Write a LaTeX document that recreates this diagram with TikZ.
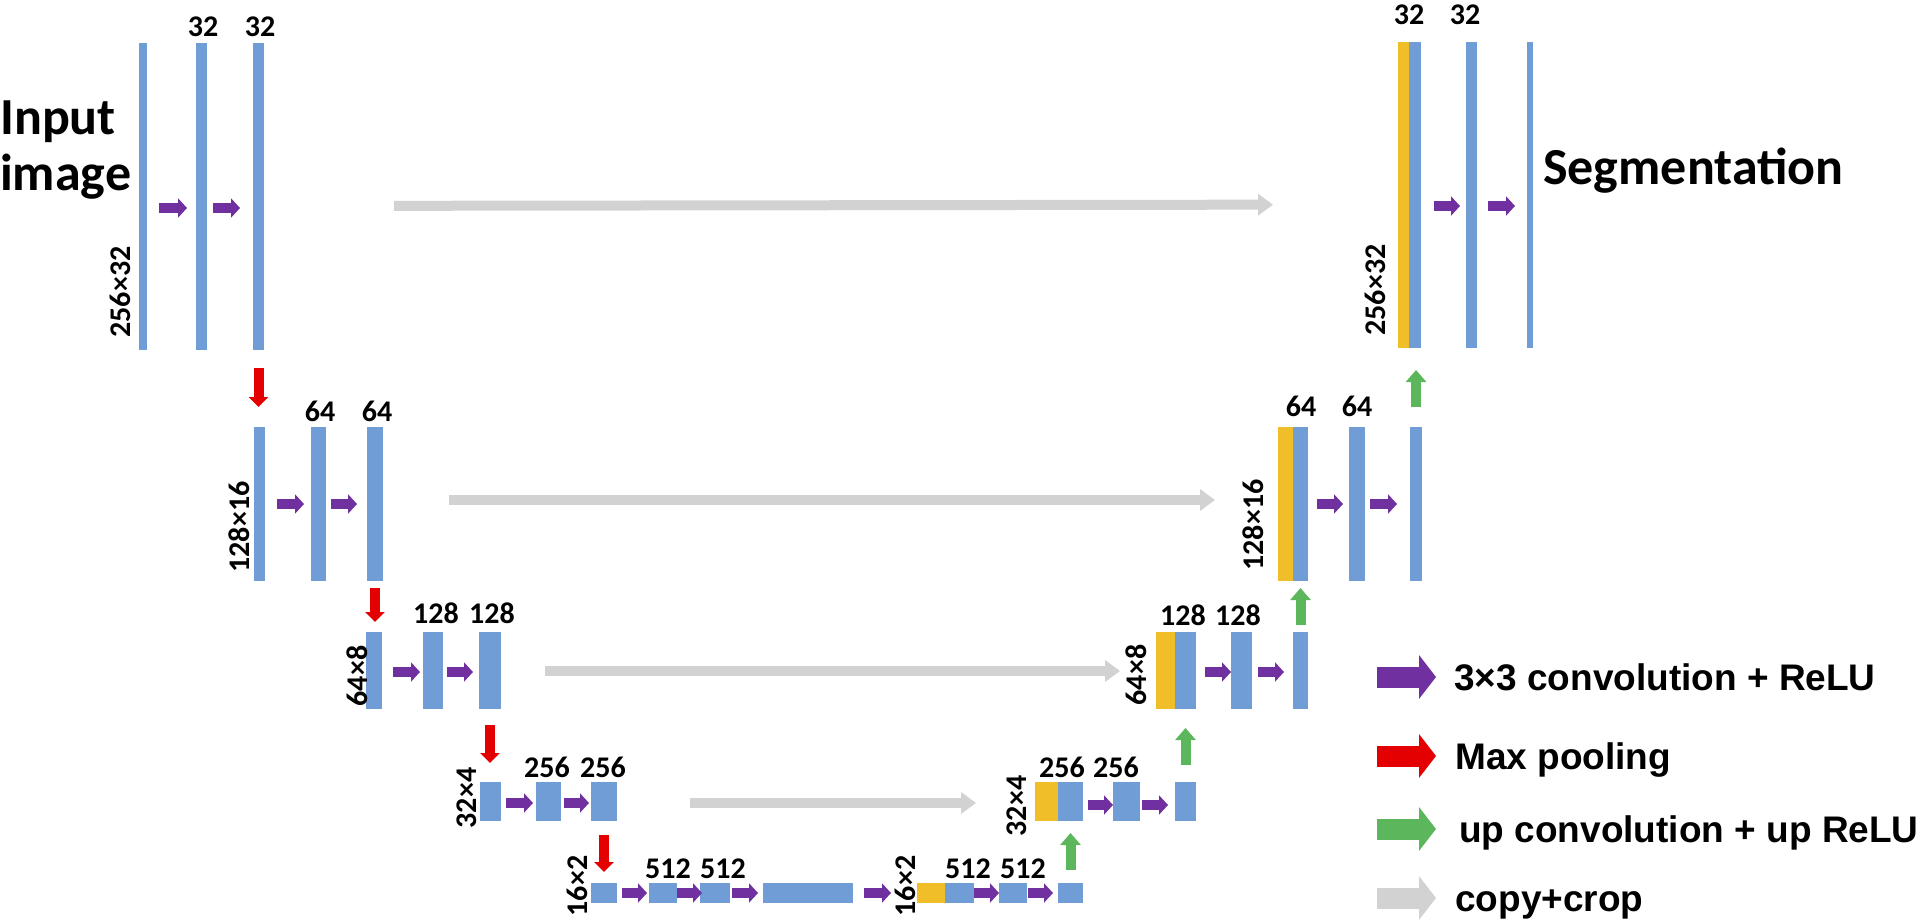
\documentclass[tikz,border=0pt]{standalone}
\usepackage{fontspec}
\setmainfont{Carlito}
\newfontfamily\legfont{Liberation Sans}
\usetikzlibrary{arrows.meta}
\definecolor{barblue}{RGB}{113,157,215}
\definecolor{baryel}{RGB}{240,190,40}
\definecolor{convpur}{RGB}{112,48,160}
\definecolor{poolred}{RGB}{228,0,0}
\definecolor{upgreen}{RGB}{92,182,92}
\definecolor{copygray}{RGB}{210,210,210}
\newcommand\mkbar[5]{\node[#1,minimum width=#4pt,minimum height=#5pt] (#2) at #3 {};}
\newcommand\hc[6]{\draw[#1,shorten <=#5pt,shorten >=#6pt] ([yshift=#4pt]#2.east) -- ([yshift=#4pt]#3.west);}
\begin{document}
\begin{tikzpicture}[x=1pt,y=-1pt,
  bar/.style={draw=none,fill=barblue,inner sep=0pt,outer sep=0pt,rectangle},
  ybar/.style={bar,fill=baryel},
  conv/.style={draw=convpur,line width=10pt,-{Triangle[width=19pt,length=9pt]}},
  pool/.style={draw=poolred,line width=10pt,-{Triangle[width=19pt,length=10pt]}},
  upc/.style={draw=upgreen,line width=10pt,-{Triangle[width=20pt,length=12pt]}},
  copyc/.style={draw=copygray,line width=10pt,-{Triangle[width=21pt,length=15pt]}},
  lab/.style={inner sep=0pt,font=\bfseries\fontsize{30}{35}\selectfont},
  big/.style={inner sep=0pt,font=\bfseries\fontsize{52}{58}\selectfont,anchor=base west},
  legt/.style={inner sep=0pt,font=\legfont\bfseries\fontsize{37}{42}\selectfont,anchor=base west},
  legconv/.style={draw=convpur,line width=21pt,-{Triangle[width=43pt,length=17pt]}},
  legpool/.style={legconv,draw=poolred},
  legup/.style={legconv,draw=upgreen},
  legcopy/.style={legconv,draw=copygray},
]
\useasboundingbox (0,0) rectangle (1920,923);

% ---- level 1 left
\mkbar{bar}{L1a}{(143,196.5)}{8}{307}
\mkbar{bar}{L1b}{(201.5,196.5)}{11}{307}
\mkbar{bar}{L1c}{(258.5,196.5)}{11}{307}
% ---- level 2 left
\mkbar{bar}{L2a}{(259.5,504)}{11}{154}
\mkbar{bar}{L2b}{(318.5,504)}{15}{154}
\mkbar{bar}{L2c}{(375,504)}{16}{154}
% ---- level 3 left
\mkbar{bar}{L3a}{(374,670.5)}{16}{77}
\mkbar{bar}{L3b}{(433,670.5)}{20}{77}
\mkbar{bar}{L3c}{(490,670.5)}{22}{77}
% ---- level 4 left
\mkbar{bar}{L4a}{(490.5,801.5)}{21}{39}
\mkbar{bar}{L4b}{(548.5,801.5)}{25}{39}
\mkbar{bar}{L4c}{(604,801.5)}{26}{39}
% ---- level 5
\mkbar{bar}{B1}{(604,893)}{26}{20}
\mkbar{bar}{B2}{(663,893)}{28}{20}
\mkbar{bar}{B3}{(715,893)}{30}{20}
\mkbar{bar}{B4}{(808,893)}{90}{20}
\mkbar{ybar}{B5y}{(931,893)}{28}{20}
\mkbar{bar}{B5}{(959.5,893)}{29}{20}
\mkbar{bar}{B6}{(1013,893)}{28}{20}
\mkbar{bar}{B7}{(1070.5,893)}{25}{20}
% ---- level 4 right
\mkbar{ybar}{R4y}{(1046.5,801.5)}{23}{39}
\mkbar{bar}{R4a}{(1070.5,801.5)}{25}{39}
\mkbar{bar}{R4b}{(1126.5,801.5)}{27}{39}
\mkbar{bar}{R4c}{(1185.5,801.5)}{21}{39}
% ---- level 3 right
\mkbar{ybar}{R3y}{(1165.5,670.5)}{19}{77}
\mkbar{bar}{R3a}{(1185.5,670.5)}{21}{77}
\mkbar{bar}{R3b}{(1241.5,670.5)}{21}{77}
\mkbar{bar}{R3c}{(1300.5,670.5)}{15}{77}
% ---- level 2 right
\mkbar{ybar}{R2y}{(1285.5,504)}{15}{154}
\mkbar{bar}{R2a}{(1300.5,504)}{15}{154}
\mkbar{bar}{R2b}{(1357,504)}{16}{154}
\mkbar{bar}{R2c}{(1416,504)}{12}{154}
% ---- level 1 right
\mkbar{ybar}{R1y}{(1403.5,195)}{11}{306}
\mkbar{bar}{R1a}{(1415,195)}{12}{306}
\mkbar{bar}{R1b}{(1471.5,195)}{11}{306}
\mkbar{bar}{R1c}{(1530,195)}{6}{306}

% ---- copy + crop
\hc{copyc}{L1c}{R1y}{-9.5}{130}{125}
\hc{copyc}{L2c}{R2y}{4}{66}{63}
\hc{copyc}{L3c}{R3y}{-0.5}{44}{36}
\hc{copyc}{L4c}{R4y}{-1.5}{73}{59}

% ---- convolutions
\hc{conv}{L1a}{L1b}{-11.5}{12}{9}
\hc{conv}{L1b}{L1c}{-11.5}{6}{13}
\hc{conv}{L2a}{L2b}{0}{12}{7}
\hc{conv}{L2b}{L2c}{0}{5}{10}
\hc{conv}{L3a}{L3b}{-1.5}{11}{3}
\hc{conv}{L3b}{L3c}{-1.5}{4}{6}
\hc{conv}{L4a}{L4b}{-1.5}{5}{3}
\hc{conv}{L4b}{L4c}{-1.5}{3}{2}
\hc{conv}{B1}{B2}{0}{5}{2}
\hc{conv}{B2}{B3}{0}{0}{-2}
\hc{conv}{B3}{B4}{0}{2}{5}
\hc{conv}{B4}{B5y}{0}{11}{26}
\hc{conv}{B5}{B6}{0}{0}{0}
\hc{conv}{B6}{B7}{0}{1}{5}
\hc{conv}{R4a}{R4b}{-3.5}{5}{0}
\hc{conv}{R4b}{R4c}{-3.5}{2}{7}
\hc{conv}{R3a}{R3b}{-1.5}{9}{0}
\hc{conv}{R3b}{R3c}{-1.5}{6}{9}
\hc{conv}{R2a}{R2b}{0}{9}{6}
\hc{conv}{R2b}{R2c}{0}{5}{13}
\hc{conv}{R1a}{R1b}{-11}{13}{6}
\hc{conv}{R1b}{R1c}{-11}{11}{12}

% ---- max pooling
\draw[pool,shorten <=18pt,shorten >=20pt] (L1c.south) -- (L1c.south |- L2a.north);
\draw[pool,shorten <=7pt,shorten >=10pt] (L2c.south) -- (L2c.south |- L3a.north);
\draw[pool,shorten <=16pt,shorten >=19pt] (L3c.south) -- (L3c.south |- L4a.north);
\draw[pool,shorten <=14pt,shorten >=11pt] (L4c.south) -- (L4c.south |- B1.north);

% ---- up convolution
\draw[upc,shorten <=13pt,shorten >=12pt] (B7.north) -- (B7.north |- R4a.south);
\draw[upc,shorten <=17pt,shorten >=19pt] (R4c.north) -- (R4c.north |- R3a.south);
\draw[upc,shorten <=7pt,shorten >=7pt] (R3c.north) -- (R3c.north |- R2a.south);
\draw[upc,shorten <=20pt,shorten >=22pt] (R2c.north) -- (R2c.north |- R1a.south);

% ---- channel labels
\node[lab] (n1) at (203,27) {32};
\node[lab] (n2) at (260,27) {32};
\node[lab] (n3) at (320,411) {64};
\node[lab] (n4) at (377,411) {64};
\node[lab] (n5) at (436,613) {128};
\node[lab] (n6) at (492,613) {128};
\node[lab] (n7) at (547,767) {256};
\node[lab] (n8) at (603,767) {256};
\node[lab] (n9) at (668,869) {512};
\node[lab] (n10) at (723,869) {512};
\node[lab] (n11) at (968,869) {512};
\node[lab] (n12) at (1023,869) {512};
\node[lab] (n13) at (1062,767) {256};
\node[lab] (n14) at (1116,767) {256};
\node[lab] (n15) at (1183,615) {128};
\node[lab] (n16) at (1238,615) {128};
\node[lab] (n17) at (1301,406) {64};
\node[lab] (n18) at (1357,406) {64};
\node[lab] (n19) at (1409,15) {32};
\node[lab] (n20) at (1465,15) {32};

% ---- size labels
\node[lab,rotate=90] (s1) at (120,292) {256×32};
\node[lab,rotate=90] (s2) at (239,527) {128×16};
\node[lab,rotate=90] (s3) at (357,676) {64×8};
\node[lab,rotate=90] (s4) at (467,798) {32×4};
\node[lab,rotate=90] (s5) at (577,886) {16×2};
\node[lab,rotate=90] (s6) at (905,886) {16×2};
\node[lab,rotate=90] (s7) at (1017,806) {32×4};
\node[lab,rotate=90] (s8) at (1136,675) {64×8};
\node[lab,rotate=90] (s9) at (1253,525) {128×16};
\node[lab,rotate=90] (s10) at (1375,290) {256×32};

% ---- titles
\node[big] (in1) at (0,135) {Input};
\node[big] (in2) at (0,190) {image};
\node[big] (seg) at (1543,185) {Segmentation};

% ---- legend
\coordinate (g1a) at (1377,677); \coordinate (g1b) at (1436,677);
\coordinate (g2a) at (1377,756); \coordinate (g2b) at (1436,756);
\coordinate (g3a) at (1377,829); \coordinate (g3b) at (1436,829);
\coordinate (g4a) at (1377,898); \coordinate (g4b) at (1436,898);
\draw[legconv] (g1a) -- (g1b);
\draw[legpool] (g2a) -- (g2b);
\draw[legup] (g3a) -- (g3b);
\draw[legcopy] (g4a) -- (g4b);
\node[legt] (t1) at (1454,690) {3×3 convolution + ReLU};
\node[legt] (t2) at (1455,769) {Max pooling};
\node[legt] (t3) at (1459,842) {up convolution + up ReLU};
\node[legt] (t4) at (1455,911) {copy+crop};
\end{tikzpicture}
\end{document}
